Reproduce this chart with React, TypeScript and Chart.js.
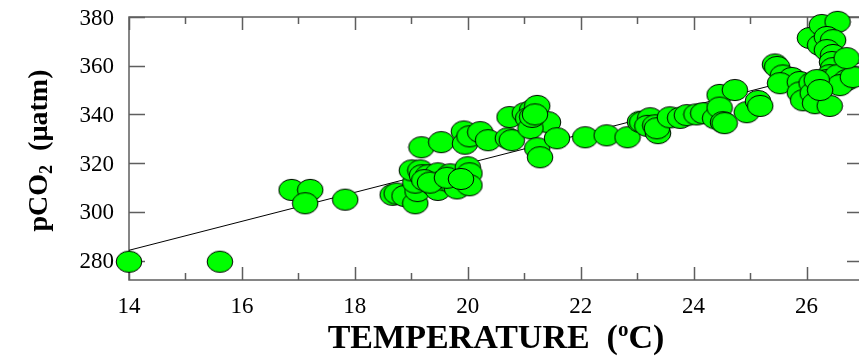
import React, { useEffect, useRef } from "react";
import { Chart, registerables } from "chart.js";

Chart.register(...registerables);

const temperature = [
  14.0, 15.61, 16.88, 17.21, 17.12, 17.83,
  18.67, 18.74, 18.88, 19.07, 19.11, 19.07, 19.01, 19.16, 19.19, 19.3, 19.39, 19.47, 19.47, 19.58,
  19.69, 19.73, 19.81, 20.0, 20.03, 20.03, 19.23, 19.33, 19.63, 19.88,
  19.18, 19.53, 19.93, 19.95, 20.03, 20.22, 20.36, 20.71, 20.78,
  20.74, 21.01, 21.14, 21.23, 21.07, 21.42, 21.11, 21.23, 21.28, 21.58, 21.14, 21.19,
  22.08, 22.46, 22.83, 23.05, 23.09, 23.23, 23.18, 23.32, 23.37, 23.35, 23.58, 23.76, 23.88,
  24.05, 24.17, 24.38, 24.46, 24.46, 24.52, 24.55, 24.73, 24.94,
  25.14, 25.18, 25.44, 25.48, 25.58, 25.74, 25.53, 25.88, 25.88, 25.94,
  26.09, 26.11, 26.15, 26.41, 26.06, 26.27, 26.55, 26.24, 26.36, 26.47, 26.36, 26.47,
  26.45, 26.47, 26.41, 26.36, 26.55, 26.71, 26.59, 26.82, 26.71, 26.18, 26.24,
];

const pco2 = [
  279.5, 279.5, 309, 309, 303.5, 305,
  307, 307.5, 306.5, 303.5, 308.5, 312, 317, 317, 315, 315, 311, 315.8, 309, 313,
  315.4, 311.7, 309.6, 318.3, 315.8, 310.9, 313, 312, 314, 313.5,
  326.5, 328.6, 333, 328, 331, 332.7, 329.4, 330.2, 329.4,
  338.9, 340.5, 341.7, 343.5, 338.4, 336.8, 334.3, 326.1, 322.4, 330.2, 339, 340,
  330.6, 331.4, 330.6, 337, 336.8, 338.4, 335.3, 335.5, 332.3, 334.3, 338.8, 338.6, 339.7,
  340, 340.5, 338.4, 348, 342.8, 336.8, 336.4, 350, 340.9,
  345.5, 343.5, 360.5, 359.5, 356, 355, 352.8, 353.3, 349, 345.8,
  352.8, 348.7, 344.6, 343.5, 371.4, 376.7, 378, 368.5, 371.8, 370.5, 366.4, 364.4,
  361.5, 359, 356.1, 354.1, 356.1, 354.1, 352, 355.3, 363.1, 354.1, 350,
];

const regressionX = [14, 27];
const regressionY = [284.2, 361.5];

const xMajorTicks = [14, 16, 18, 20, 22, 24, 26];
const xMinorTicks = [15, 17, 19, 21, 23, 25];
const yTicks = [280, 300, 320, 340, 360, 380];

const xTitleMain = "TEMPERATURE  (";
const xTitleSup = "o";
const xTitleEnd = "C)";
const yTitleMain = "pCO";
const yTitleSub = "2";
const yTitleEnd = "  (\u00b5atm)";

function makeEllipse(): HTMLCanvasElement {
  const c = document.createElement("canvas");
  c.width = 28;
  c.height = 24;
  const ctx = c.getContext("2d")!;
  ctx.beginPath();
  ctx.ellipse(14, 12, 12.8, 10.6, 0, 0, Math.PI * 2);
  ctx.fillStyle = "#00ff00";
  ctx.fill();
  ctx.lineWidth = 1;
  ctx.strokeStyle = "#000000";
  ctx.stroke();
  return c;
}

const SERIF = "'Liberation Serif', 'Times New Roman', serif";

const framePlugin = {
  id: "frameTicks",
  beforeDatasetsDraw(chart: any) {
    const { ctx, chartArea } = chart;
    const { left, right, top, bottom } = chartArea;
    const xs = chart.scales.x;
    const ys = chart.scales.y;
    ctx.save();
    ctx.strokeStyle = "#5e5e5e";
    ctx.lineWidth = 1.5;
    ctx.strokeRect(left, top, right - left, bottom - top);
    ctx.beginPath();
    for (const v of yTicks) {
      const p = Math.round(ys.getPixelForValue(v)) + 0.5;
      ctx.moveTo(left, p);
      ctx.lineTo(left + 16, p);
      ctx.moveTo(right, p);
      ctx.lineTo(right - 16, p);
    }
    for (const v of xMajorTicks) {
      const p = Math.round(xs.getPixelForValue(v)) + 0.5;
      ctx.moveTo(p, bottom);
      ctx.lineTo(p, bottom - 13);
      ctx.moveTo(p, top);
      ctx.lineTo(p, top + 13);
    }
    for (const v of xMinorTicks) {
      const p = Math.round(xs.getPixelForValue(v)) + 0.5;
      ctx.moveTo(p, bottom);
      ctx.lineTo(p, bottom - 7);
      ctx.moveTo(p, top);
      ctx.lineTo(p, top + 7);
    }
    ctx.stroke();
    ctx.restore();
  },
  afterDraw(chart: any) {
    const { ctx, chartArea } = chart;
    const xs = chart.scales.x;
    const ys = chart.scales.y;
    ctx.save();
    ctx.fillStyle = "#000000";
    ctx.font = `23px ${SERIF}`;
    ctx.textBaseline = "alphabetic";
    ctx.textAlign = "right";
    for (const v of yTicks) {
      const p = ys.getPixelForValue(v);
      ctx.fillText(String(v), chartArea.left - 15, p + 7.5);
    }
    ctx.textAlign = "center";
    for (const v of xMajorTicks) {
      const p = xs.getPixelForValue(v);
      ctx.fillText(String(v), p, chartArea.bottom + 33);
    }

    // X title
    ctx.textAlign = "left";
    const bigX = `bold 34px ${SERIF}`;
    const supX = `bold 21px ${SERIF}`;
    ctx.font = bigX;
    const w1 = ctx.measureText(xTitleMain).width;
    const w3 = ctx.measureText(xTitleEnd).width;
    ctx.font = supX;
    const w2 = ctx.measureText(xTitleSup).width;
    const total = w1 + w2 + w3;
    const cx = (chartArea.left + chartArea.right) / 2;
    let x = cx - total / 2;
    const base = 348;
    ctx.font = bigX;
    ctx.fillText(xTitleMain, x, base);
    x += w1;
    ctx.font = supX;
    ctx.fillText(xTitleSup, x, base - 12);
    x += w2;
    ctx.font = bigX;
    ctx.fillText(xTitleEnd, x, base);

    // Y title
    const bigY = `bold 28px ${SERIF}`;
    const subY = `bold 18px ${SERIF}`;
    ctx.font = bigY;
    const a1 = ctx.measureText(yTitleMain).width;
    const a3 = ctx.measureText(yTitleEnd).width;
    ctx.font = subY;
    const a2 = ctx.measureText(yTitleSub).width;
    const ytot = a1 + a2 + a3;
    const cy = (chartArea.top + chartArea.bottom) / 2 + 2;
    ctx.translate(47, cy);
    ctx.rotate(-Math.PI / 2);
    let t = -ytot / 2;
    ctx.font = bigY;
    ctx.fillText(yTitleMain, t, 0);
    t += a1;
    ctx.font = subY;
    ctx.fillText(yTitleSub, t, 5);
    t += a2;
    ctx.font = bigY;
    ctx.fillText(yTitleEnd, t, 0);
    ctx.restore();
  },
};

export default function App() {
  const ref = useRef<HTMLCanvasElement | null>(null);
  useEffect(() => {
    if (!ref.current) return;
    const ellipse = makeEllipse();
    const points = temperature.map((t, i) => ({ x: t, y: pco2[i] }));
    const line = regressionX.map((t, i) => ({ x: t, y: regressionY[i] }));
    const chart = new Chart(ref.current, {
      type: "scatter",
      data: {
        datasets: [
          {
            label: "pCO2",
            data: points,
            pointStyle: ellipse as any,
            pointRadius: 12,
            order: 1,
            clip: false as any,
          },
          {
            label: "fit",
            data: line,
            showLine: true,
            borderColor: "#000000",
            borderWidth: 1,
            pointRadius: 0,
            order: 2,
          },
        ],
      },
      options: {
        animation: false,
        responsive: false,
        devicePixelRatio: 1,
        events: [],
        layout: { padding: { left: 0, top: 17, right: 17, bottom: 0 } },
        plugins: {
          legend: { display: false },
          tooltip: { enabled: false },
          title: { display: false },
        },
        scales: {
          x: {
            type: "linear",
            min: 14,
            max: 27,
            grid: { display: false, drawTicks: false },
            border: { display: false },
            ticks: { display: false },
            afterBuildTicks: (s: any) => {
              s.ticks = [...xMajorTicks, ...xMinorTicks].sort((a, b) => a - b).map((v) => ({ value: v }));
            },
            afterFit: (s: any) => {
              s.height = 77;
            },
          },
          y: {
            type: "linear",
            min: 272,
            max: 380,
            grid: { display: false, drawTicks: false },
            border: { display: false },
            ticks: { display: false },
            afterBuildTicks: (s: any) => {
              s.ticks = yTicks.map((v) => ({ value: v }));
            },
            afterFit: (s: any) => {
              s.width = 129;
            },
          },
        },
      },
      plugins: [framePlugin],
    });
    return () => chart.destroy();
  }, []);
  return (
    <div
      style={{
        position: "fixed",
        left: 0,
        top: 0,
        width: 859,
        height: 357,
        overflow: "hidden",
        background: "#ffffff",
      }}
    >
      <canvas ref={ref} width={880} height={357} style={{ width: 880, height: 357, display: "block" }} />
    </div>
  );
}
